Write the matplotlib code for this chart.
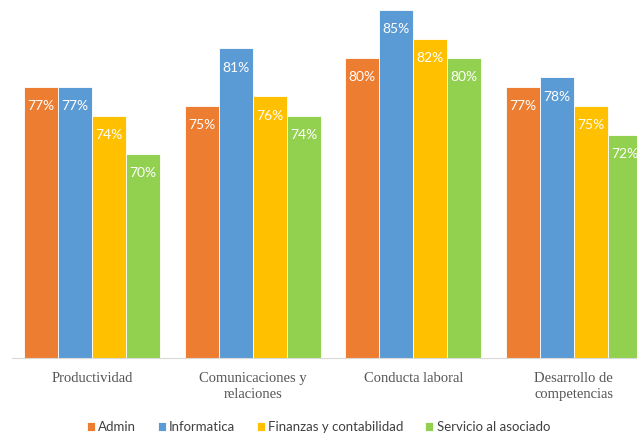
import matplotlib
matplotlib.use('Agg')
import matplotlib.pyplot as plt
import numpy as np

# données
categories = ['Productividad', 'Comunicaciones y\nrelaciones', 'Conducta laboral', 'Desarrollo de\ncompetencias']
series = ['Admin', 'Informatica', 'Finanzas y contabilidad', 'Servicio al asociado']
admin = [77, 75, 80, 77]
informatica = [77, 81, 85, 78]
finanzas = [74, 76, 82, 75]
servicio = [70, 74, 80, 72]
couleurs = ['#ED7D31', '#5B9BD5', '#FFC000', '#92D050']

valeurs = [admin, informatica, finanzas, servicio]

fig = plt.figure(figsize=(6.37, 4.34), dpi=100)
ax = fig.add_axes([12/637, 76/434, 642/637, 358/434])

x = np.arange(len(categories))
largeur = 0.212
for i, (nom, vals, c) in enumerate(zip(series, valeurs, couleurs)):
    pos = x + (i - 1.5) * largeur
    ax.bar(pos, vals, largeur, color=c, edgecolor='white', linewidth=0.6, label=nom)
    for xi, v in zip(pos, vals):
        ax.annotate(f'{v}%', (xi, v), xytext=(0, -14), textcoords='offset points',
                    ha='center', va='center', color='white', fontsize=10,
                    family='Lato')

ax.set_ylim(48.75, 86.04)
ax.set_xlim(-0.5, 3.5)
ax.set_yticks([])
ax.set_xticks(x)
ax.set_xticklabels(categories, family='Liberation Serif', fontsize=10.5, color='#555555', linespacing=1.3)
ax.tick_params(axis='x', length=0, pad=10)
for s in ['top', 'right', 'left']:
    ax.spines[s].set_visible(False)
ax.spines['bottom'].set_color('#D9D9D9')

leg = fig.legend(loc='lower center', bbox_to_anchor=(0.5, -0.025), ncol=4, frameon=False,
                 handlelength=0.6, handleheight=0.6, handletextpad=0.25,
                 columnspacing=1.65, prop={'family': 'Lato', 'size': 9.5})
for t in leg.get_texts():
    t.set_color('#404040')

fig.savefig('out.png', dpi=100)
